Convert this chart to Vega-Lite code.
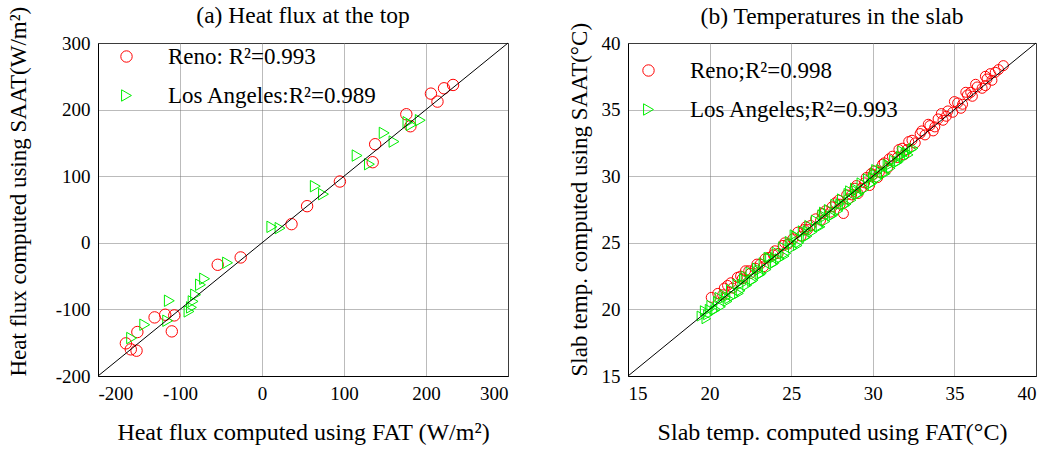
{
  "$schema": "https://vega.github.io/schema/vega-lite/v6.json",
  "padding": {"left": 6, "top": 3, "right": 5, "bottom": 2},
  "background": "white",
  "config": {
    "font": "Liberation Serif",
    "view": {"stroke": "black", "strokeWidth": 1},
    "axis": {
      "labelFont": "Liberation Serif", "labelFontSize": 19, "labelColor": "black",
      "titleFont": "Liberation Serif", "titleFontWeight": "normal", "titleColor": "black",
      "domainColor": "black", "ticks": false, "labelPadding": 8,
      "gridColor": "#777777", "gridDash": [1, 1], "gridWidth": 1, "gridOpacity": 1
    },
    "axisX": {"titleFontSize": 24},
    "axisY": {"titleFontSize": 23, "titleAnchor": "start"},
    "title": {"font": "Liberation Serif", "fontSize": 23.5, "fontWeight": "normal", "color": "black", "anchor": "middle", "offset": 8},
    "legend": {
      "orient": "none", "title": null, "padding": 0, "labelLimit": 500,
      "labelFont": "Liberation Serif", "labelFontSize": 23, "labelColor": "black",
      "labelOffset": 30, "rowPadding": 15, "symbolSize": 130, "symbolStrokeWidth": 1
    }
  },
  "datasets": {
    "a": [
      {"x": 233, "y": 237, "city": "Reno"}, {"x": 222, "y": 232, "city": "Reno"}, {"x": 206, "y": 224, "city": "Reno"},
      {"x": 214, "y": 212, "city": "Reno"}, {"x": 176, "y": 193, "city": "Reno"}, {"x": 181, "y": 175, "city": "Reno"},
      {"x": 138, "y": 148, "city": "Reno"}, {"x": 135, "y": 121, "city": "Reno"}, {"x": 95, "y": 92, "city": "Reno"},
      {"x": 55, "y": 55, "city": "Reno"}, {"x": 36, "y": 28, "city": "Reno"}, {"x": -26, "y": -22, "city": "Reno"},
      {"x": -54, "y": -33, "city": "Reno"}, {"x": -118, "y": -108, "city": "Reno"}, {"x": -107, "y": -109, "city": "Reno"},
      {"x": -110, "y": -133, "city": "Reno"}, {"x": -131, "y": -112, "city": "Reno"}, {"x": -152, "y": -134, "city": "Reno"},
      {"x": -166, "y": -151, "city": "Reno"}, {"x": -160, "y": -160, "city": "Reno"}, {"x": -153, "y": -162, "city": "Reno"},
      {"x": 193, "y": 184, "city": "LA"}, {"x": 182, "y": 177, "city": "LA"}, {"x": 178, "y": 181, "city": "LA"},
      {"x": 149, "y": 165, "city": "LA"}, {"x": 161, "y": 152, "city": "LA"}, {"x": 116, "y": 131, "city": "LA"},
      {"x": 131, "y": 118, "city": "LA"}, {"x": 65, "y": 85, "city": "LA"}, {"x": 75, "y": 73, "city": "LA"},
      {"x": 12, "y": 24, "city": "LA"}, {"x": 22, "y": 22, "city": "LA"}, {"x": -42, "y": -30, "city": "LA"},
      {"x": -70, "y": -54, "city": "LA"}, {"x": -75, "y": -63, "city": "LA"}, {"x": -81, "y": -78, "city": "LA"},
      {"x": -84, "y": -88, "city": "LA"}, {"x": -86, "y": -97, "city": "LA"}, {"x": -89, "y": -103, "city": "LA"},
      {"x": -113, "y": -87, "city": "LA"}, {"x": -115, "y": -117, "city": "LA"}, {"x": -143, "y": -123, "city": "LA"},
      {"x": -159, "y": -143, "city": "LA"}
    ],
    "b": [
      {"x": 20.1, "y": 20.9, "city": "Reno"}, {"x": 20.5, "y": 21.2, "city": "Reno"}, {"x": 20.8, "y": 21.1, "city": "Reno"},
      {"x": 21.1, "y": 21.8, "city": "Reno"}, {"x": 21.4, "y": 21.6, "city": "Reno"}, {"x": 21.7, "y": 22.4, "city": "Reno"},
      {"x": 22.0, "y": 22.3, "city": "Reno"}, {"x": 22.2, "y": 22.9, "city": "Reno"}, {"x": 22.5, "y": 22.7, "city": "Reno"},
      {"x": 22.8, "y": 23.1, "city": "Reno"}, {"x": 23.1, "y": 23.4, "city": "Reno"}, {"x": 23.3, "y": 23.2, "city": "Reno"},
      {"x": 23.6, "y": 23.9, "city": "Reno"}, {"x": 23.9, "y": 24.1, "city": "Reno"}, {"x": 24.2, "y": 24.2, "city": "Reno"},
      {"x": 24.5, "y": 24.8, "city": "Reno"}, {"x": 24.8, "y": 24.9, "city": "Reno"}, {"x": 25.1, "y": 25.3, "city": "Reno"},
      {"x": 25.4, "y": 25.8, "city": "Reno"}, {"x": 25.6, "y": 25.5, "city": "Reno"}, {"x": 25.9, "y": 26.2, "city": "Reno"},
      {"x": 26.2, "y": 26.3, "city": "Reno"}, {"x": 26.5, "y": 26.8, "city": "Reno"}, {"x": 26.8, "y": 26.7, "city": "Reno"},
      {"x": 27.1, "y": 27.4, "city": "Reno"}, {"x": 27.4, "y": 27.3, "city": "Reno"}, {"x": 27.7, "y": 28.0, "city": "Reno"},
      {"x": 28.0, "y": 27.9, "city": "Reno"}, {"x": 28.2, "y": 27.2, "city": "Reno"}, {"x": 28.4, "y": 28.6, "city": "Reno"},
      {"x": 28.7, "y": 28.6, "city": "Reno"}, {"x": 29.0, "y": 29.3, "city": "Reno"}, {"x": 29.3, "y": 29.1, "city": "Reno"},
      {"x": 29.6, "y": 29.9, "city": "Reno"}, {"x": 29.8, "y": 29.3, "city": "Reno"}, {"x": 30.1, "y": 30.4, "city": "Reno"},
      {"x": 30.4, "y": 30.3, "city": "Reno"}, {"x": 30.7, "y": 31.0, "city": "Reno"}, {"x": 30.9, "y": 30.6, "city": "Reno"},
      {"x": 31.2, "y": 31.5, "city": "Reno"}, {"x": 31.5, "y": 31.4, "city": "Reno"}, {"x": 31.8, "y": 32.1, "city": "Reno"},
      {"x": 32.1, "y": 32.0, "city": "Reno"}, {"x": 32.4, "y": 32.7, "city": "Reno"}, {"x": 32.6, "y": 32.5, "city": "Reno"},
      {"x": 32.9, "y": 33.2, "city": "Reno"}, {"x": 33.2, "y": 33.1, "city": "Reno"}, {"x": 33.5, "y": 33.8, "city": "Reno"},
      {"x": 33.8, "y": 33.7, "city": "Reno"}, {"x": 34.0, "y": 34.3, "city": "Reno"}, {"x": 34.3, "y": 34.2, "city": "Reno"},
      {"x": 34.6, "y": 34.9, "city": "Reno"}, {"x": 34.9, "y": 34.8, "city": "Reno"}, {"x": 35.2, "y": 35.5, "city": "Reno"},
      {"x": 35.5, "y": 35.4, "city": "Reno"}, {"x": 35.8, "y": 36.1, "city": "Reno"}, {"x": 36.1, "y": 36.0, "city": "Reno"},
      {"x": 36.4, "y": 36.7, "city": "Reno"}, {"x": 36.7, "y": 36.6, "city": "Reno"}, {"x": 37.0, "y": 37.3, "city": "Reno"},
      {"x": 37.3, "y": 37.2, "city": "Reno"}, {"x": 37.5, "y": 37.8, "city": "Reno"}, {"x": 38.0, "y": 38.3, "city": "Reno"},
      {"x": 30.0, "y": 30.1, "city": "Reno"}, {"x": 31.0, "y": 31.3, "city": "Reno"}, {"x": 33.0, "y": 33.4, "city": "Reno"},
      {"x": 34.5, "y": 34.5, "city": "Reno"}, {"x": 36.0, "y": 36.3, "city": "Reno"}, {"x": 29.5, "y": 29.5, "city": "Reno"},
      {"x": 27.5, "y": 27.7, "city": "Reno"}, {"x": 26.0, "y": 26.0, "city": "Reno"}, {"x": 24.0, "y": 24.4, "city": "Reno"},
      {"x": 22.9, "y": 23.4, "city": "Reno"}, {"x": 21.3, "y": 22.0, "city": "Reno"},
      {"x": 33.4, "y": 33.9, "city": "Reno"}, {"x": 34.2, "y": 34.7, "city": "Reno"}, {"x": 35.0, "y": 35.6, "city": "Reno"},
      {"x": 35.7, "y": 36.3, "city": "Reno"}, {"x": 36.3, "y": 36.9, "city": "Reno"}, {"x": 36.9, "y": 37.5, "city": "Reno"},
      {"x": 37.2, "y": 37.7, "city": "Reno"}, {"x": 37.7, "y": 38.0, "city": "Reno"}, {"x": 32.2, "y": 32.6, "city": "Reno"},
      {"x": 31.6, "y": 32.0, "city": "Reno"}, {"x": 30.6, "y": 30.9, "city": "Reno"}, {"x": 29.9, "y": 30.2, "city": "Reno"},
      {"x": 28.9, "y": 29.1, "city": "Reno"}, {"x": 28.5, "y": 28.3, "city": "Reno"}, {"x": 27.9, "y": 28.2, "city": "Reno"},
      {"x": 26.9, "y": 27.2, "city": "Reno"}, {"x": 25.8, "y": 26.0, "city": "Reno"}, {"x": 24.6, "y": 25.0, "city": "Reno"},
      {"x": 23.4, "y": 23.8, "city": "Reno"}, {"x": 22.4, "y": 22.9, "city": "Reno"}, {"x": 21.9, "y": 22.5, "city": "Reno"},
      {"x": 20.9, "y": 21.6, "city": "Reno"}, {"x": 33.7, "y": 33.4, "city": "Reno"}, {"x": 35.4, "y": 35.1, "city": "Reno"},
      {"x": 36.9, "y": 36.8, "city": "Reno"}, {"x": 31.9, "y": 31.6, "city": "Reno"}, {"x": 30.3, "y": 29.9, "city": "Reno"},
      {"x": 29.1, "y": 28.7, "city": "Reno"},
      {"x": 19.5, "y": 19.5, "city": "LA"}, {"x": 19.7, "y": 19.9, "city": "LA"}, {"x": 19.9, "y": 19.6, "city": "LA"},
      {"x": 20.1, "y": 20.3, "city": "LA"}, {"x": 20.3, "y": 19.9, "city": "LA"}, {"x": 20.5, "y": 20.6, "city": "LA"},
      {"x": 20.7, "y": 20.2, "city": "LA"}, {"x": 20.9, "y": 21.1, "city": "LA"}, {"x": 21.1, "y": 20.6, "city": "LA"},
      {"x": 21.3, "y": 21.5, "city": "LA"}, {"x": 21.5, "y": 21.0, "city": "LA"}, {"x": 21.7, "y": 21.9, "city": "LA"},
      {"x": 21.9, "y": 21.4, "city": "LA"}, {"x": 22.1, "y": 22.3, "city": "LA"}, {"x": 22.3, "y": 21.8, "city": "LA"},
      {"x": 22.5, "y": 22.8, "city": "LA"}, {"x": 22.7, "y": 22.2, "city": "LA"}, {"x": 22.9, "y": 23.1, "city": "LA"},
      {"x": 23.1, "y": 22.6, "city": "LA"}, {"x": 23.3, "y": 23.5, "city": "LA"}, {"x": 23.5, "y": 23.0, "city": "LA"},
      {"x": 23.7, "y": 23.9, "city": "LA"}, {"x": 23.9, "y": 23.4, "city": "LA"}, {"x": 24.1, "y": 24.3, "city": "LA"},
      {"x": 24.3, "y": 23.8, "city": "LA"}, {"x": 24.5, "y": 24.7, "city": "LA"}, {"x": 24.7, "y": 24.2, "city": "LA"},
      {"x": 24.9, "y": 25.1, "city": "LA"}, {"x": 25.1, "y": 24.6, "city": "LA"}, {"x": 25.3, "y": 25.5, "city": "LA"},
      {"x": 25.5, "y": 25.0, "city": "LA"}, {"x": 25.7, "y": 25.9, "city": "LA"}, {"x": 25.9, "y": 25.4, "city": "LA"},
      {"x": 26.1, "y": 26.3, "city": "LA"}, {"x": 26.3, "y": 25.8, "city": "LA"}, {"x": 26.5, "y": 26.7, "city": "LA"},
      {"x": 26.7, "y": 26.2, "city": "LA"}, {"x": 26.9, "y": 27.1, "city": "LA"}, {"x": 27.1, "y": 26.6, "city": "LA"},
      {"x": 27.3, "y": 27.5, "city": "LA"}, {"x": 27.5, "y": 27.0, "city": "LA"}, {"x": 27.7, "y": 27.9, "city": "LA"},
      {"x": 27.9, "y": 27.4, "city": "LA"}, {"x": 28.1, "y": 28.3, "city": "LA"}, {"x": 28.3, "y": 27.8, "city": "LA"},
      {"x": 28.5, "y": 28.7, "city": "LA"}, {"x": 28.7, "y": 28.2, "city": "LA"}, {"x": 28.9, "y": 29.1, "city": "LA"},
      {"x": 29.1, "y": 28.6, "city": "LA"}, {"x": 29.3, "y": 29.5, "city": "LA"}, {"x": 29.5, "y": 29.0, "city": "LA"},
      {"x": 29.7, "y": 29.8, "city": "LA"}, {"x": 29.9, "y": 29.4, "city": "LA"}, {"x": 30.1, "y": 30.2, "city": "LA"},
      {"x": 30.3, "y": 29.8, "city": "LA"}, {"x": 30.5, "y": 30.5, "city": "LA"}, {"x": 30.7, "y": 30.2, "city": "LA"},
      {"x": 30.9, "y": 30.9, "city": "LA"}, {"x": 31.1, "y": 30.6, "city": "LA"}, {"x": 31.3, "y": 31.2, "city": "LA"},
      {"x": 31.5, "y": 31.0, "city": "LA"}, {"x": 31.7, "y": 31.5, "city": "LA"}, {"x": 31.9, "y": 31.4, "city": "LA"},
      {"x": 32.1, "y": 31.8, "city": "LA"}, {"x": 32.4, "y": 32.0, "city": "LA"},
      {"x": 20.0, "y": 20.0, "city": "LA"}, {"x": 21.0, "y": 20.9, "city": "LA"}, {"x": 22.0, "y": 21.9, "city": "LA"},
      {"x": 23.0, "y": 22.9, "city": "LA"}, {"x": 24.0, "y": 23.9, "city": "LA"}, {"x": 25.0, "y": 24.9, "city": "LA"},
      {"x": 26.0, "y": 25.9, "city": "LA"}, {"x": 27.0, "y": 26.9, "city": "LA"}, {"x": 28.0, "y": 27.9, "city": "LA"},
      {"x": 29.0, "y": 28.9, "city": "LA"}, {"x": 30.0, "y": 29.9, "city": "LA"}, {"x": 31.0, "y": 30.8, "city": "LA"},
      {"x": 32.0, "y": 31.7, "city": "LA"},
      {"x": 19.8, "y": 19.3, "city": "LA"}, {"x": 20.4, "y": 20.0, "city": "LA"}, {"x": 21.2, "y": 20.8, "city": "LA"},
      {"x": 21.8, "y": 21.2, "city": "LA"}, {"x": 22.6, "y": 22.1, "city": "LA"}, {"x": 23.2, "y": 22.7, "city": "LA"},
      {"x": 24.0, "y": 23.5, "city": "LA"}, {"x": 24.6, "y": 24.0, "city": "LA"}, {"x": 25.4, "y": 24.8, "city": "LA"},
      {"x": 26.0, "y": 25.5, "city": "LA"}, {"x": 26.8, "y": 26.2, "city": "LA"}, {"x": 27.6, "y": 27.1, "city": "LA"},
      {"x": 28.4, "y": 27.9, "city": "LA"}, {"x": 29.2, "y": 28.7, "city": "LA"}, {"x": 30.0, "y": 29.5, "city": "LA"},
      {"x": 30.8, "y": 30.2, "city": "LA"}, {"x": 31.6, "y": 31.1, "city": "LA"}, {"x": 32.2, "y": 31.6, "city": "LA"},
      {"x": 32.5, "y": 32.1, "city": "LA"}, {"x": 31.8, "y": 31.9, "city": "LA"}, {"x": 30.2, "y": 30.5, "city": "LA"},
      {"x": 28.6, "y": 28.9, "city": "LA"}, {"x": 27.0, "y": 27.3, "city": "LA"}, {"x": 25.2, "y": 25.6, "city": "LA"},
      {"x": 23.6, "y": 23.9, "city": "LA"}, {"x": 22.2, "y": 22.5, "city": "LA"}, {"x": 20.6, "y": 20.9, "city": "LA"}
    ],
    "lineA": [{"x": -200, "y": -200}, {"x": 300, "y": 300}],
    "lineB": [{"x": 15, "y": 15}, {"x": 40, "y": 40}]
  },
  "hconcat": [
    {
      "width": 410, "height": 333,
      "title": {"text": "(a) Heat flux at the top", "dy": 29},
      "encoding": {
        "x": {"field": "x", "type": "quantitative", "scale": {"domain": [-200, 300], "nice": false},
              "axis": {"values": [-200, -100, 0, 100, 200, 300], "labelExpr": "'' + datum.value", "title": "Heat flux computed using FAT (W/m²)", "titlePadding": 17}},
        "y": {"field": "y", "type": "quantitative", "scale": {"domain": [-200, 300], "nice": false},
              "axis": {"values": [-200, -100, 0, 100, 200, 300], "labelExpr": "'' + datum.value", "title": "Heat flux computed using SAAT(W/m²)", "titlePadding": 25}}
      },
      "layer": [
        {
          "data": {"name": "a"},
          "mark": {"type": "point", "filled": false, "strokeWidth": 1, "size": 130, "opacity": 1},
          "encoding": {
            "color": {"field": "city", "type": "nominal", "scale": {"domain": ["Reno", "LA"], "range": ["#ff0000", "#00ee00"]},
                      "legend": {"legendX": 17, "legendY": 2, "labelExpr": "datum.value == 'Reno' ? 'Reno: R²=0.993' : 'Los Angeles:R²=0.989'"}},
            "shape": {"field": "city", "type": "nominal", "scale": {"domain": ["Reno", "LA"], "range": ["circle", "triangle-right"]}}
          }
        },
        {
          "data": {"name": "lineA"},
          "mark": {"type": "line", "color": "black", "strokeWidth": 1},
          "encoding": {}
        }
      ]
    },
    {
      "width": 408, "height": 333,
      "title": {"text": "(b) Temperatures in the slab", "dy": 14},
      "encoding": {
        "x": {"field": "x", "type": "quantitative", "scale": {"domain": [15, 40], "nice": false},
              "axis": {"values": [15, 20, 25, 30, 35, 40], "title": "Slab temp. computed using FAT(°C)", "titlePadding": 17}},
        "y": {"field": "y", "type": "quantitative", "scale": {"domain": [15, 40], "nice": false},
              "axis": {"values": [15, 20, 25, 30, 35, 40], "title": "Slab temp. computed using SAAT(°C)", "titlePadding": 10}}
      },
      "layer": [
        {
          "data": {"name": "b"},
          "mark": {"type": "point", "filled": false, "strokeWidth": 1, "size": 100, "opacity": 1},
          "encoding": {
            "color": {"field": "city", "type": "nominal", "scale": {"domain": ["Reno", "LA"], "range": ["#ff0000", "#00ee00"]},
                      "legend": {"legendX": 9, "legendY": 16, "labelExpr": "datum.value == 'Reno' ? 'Reno;R²=0.998' : 'Los Angeles;R²=0.993'"}},
            "shape": {"field": "city", "type": "nominal", "scale": {"domain": ["Reno", "LA"], "range": ["circle", "triangle-right"]}}
          }
        },
        {
          "data": {"name": "lineB"},
          "mark": {"type": "line", "color": "black", "strokeWidth": 1},
          "encoding": {}
        }
      ]
    }
  ],
  "spacing": 56,
  "resolve": {"scale": {"color": "independent", "shape": "independent"}}
}
